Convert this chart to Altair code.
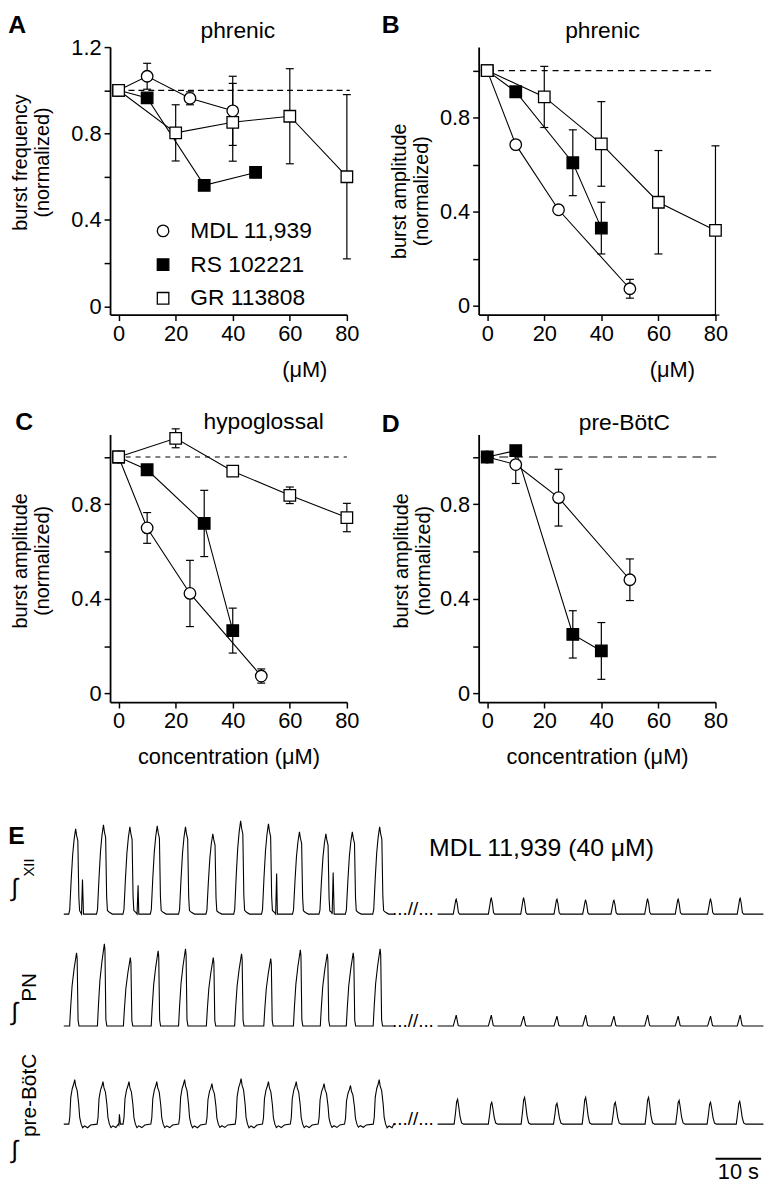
import altair as alt
import pandas as pd

FONT = "Liberation Sans"
SERIES = ["MDL 11,939", "RS 102221", "GR 113808"]
SHAPES = ["circle", "square", "square"]
FILLS = ["white", "black", "white"]

# ---------------- Panel A: phrenic burst frequency ----------------
A_MDL_X = [0, 10, 25, 40]
A_MDL_Y = [1.0, 1.065, 0.963, 0.905]
A_MDL_E = [0, 0.06, 0.03, 0.16]
A_RS_X = [0, 10, 30, 48]
A_RS_Y = [1.0, 0.965, 0.56, 0.62]
A_RS_E = [0, 0, 0.02, 0]
A_GR_X = [0, 20, 40, 60, 80]
A_GR_Y = [1.0, 0.803, 0.852, 0.88, 0.60]
A_GR_E = [0, 0.13, 0.18, 0.22, 0.38]

# ---------------- Panel B: phrenic burst amplitude ----------------
B_MDL_X = [0, 10, 25, 50]
B_MDL_Y = [1.0, 0.685, 0.408, 0.072]
B_MDL_E = [0, 0, 0, 0.04]
B_RS_X = [0, 10, 30, 40]
B_RS_Y = [1.0, 0.91, 0.608, 0.33]
B_RS_E = [0, 0, 0.14, 0.11]
B_GR_X = [0, 20, 40, 60, 80]
B_GR_Y = [1.0, 0.888, 0.688, 0.44, 0.32]
B_GR_E = [0, 0.13, 0.18, 0.22, 0.36]

# ---------------- Panel C: hypoglossal burst amplitude ----------------
C_MDL_X = [0, 10, 25, 50]
C_MDL_Y = [1.0, 0.70, 0.423, 0.074]
C_MDL_E = [0, 0.065, 0.14, 0.03]
C_RS_X = [0, 10, 30, 40]
C_RS_Y = [1.0, 0.946, 0.719, 0.266]
C_RS_E = [0, 0, 0.14, 0.095]
C_GR_X = [0, 20, 40, 60, 80]
C_GR_Y = [1.0, 1.079, 0.94, 0.838, 0.744]
C_GR_E = [0, 0.04, 0, 0.035, 0.06]

# ---------------- Panel D: pre-BotC burst amplitude ----------------
D_MDL_X = [0, 10, 25, 50]
D_MDL_Y = [1.0, 0.968, 0.828, 0.481]
D_MDL_E = [0, 0.08, 0.12, 0.088]
D_RS_X = [0, 10, 30, 40]
D_RS_Y = [1.0, 1.027, 0.25, 0.18]
D_RS_E = [0, 0, 0.10, 0.12]

# ---------------- Panel E: integrated traces (display time in s, amplitude in a.u.) ----------------
SEG_LEFT = [0.0, 72.4]
SEG_RIGHT = [82.0, 153.5]
BREAK_T = 76.6
XII_BASE, PN_BASE, PB_BASE = 264, 151, 52

XII_L_T = [2.6, 8.7, 14.5, 20.5, 26.7, 32.7, 38.8, 44.9, 51.7, 57.5, 63.3, 69.3]
XII_L_A = [86, 90, 88, 89, 88, 81, 94, 91, 83, 81, 83, 88]
XII_SPK_T = [4.1, 16.3, 46.7, 59.1]
XII_SPK_A = [35, 29, 41, 42]
XII_R_T = [86.1, 93.8, 100.9, 108.2, 114.5, 120.7, 128.1, 134.8, 141.9, 148.4]
XII_R_A = [15, 16, 16, 15, 14, 14, 15, 15, 15, 16]

PN_L_T = [2.8, 8.9, 14.6, 20.7, 26.7, 32.8, 39.0, 45.4, 51.9, 57.8, 63.5, 69.4]
PN_L_A = [74, 83, 69, 76, 78, 69, 73, 68, 77, 73, 74, 78]
PN_R_T = [86.1, 93.8, 100.9, 108.2, 114.5, 120.7, 128.1, 134.8, 141.9, 148.4]
PN_R_A = [11, 11, 10, 10, 11, 10, 11, 10, 10, 11]

PB_L_T = [2.4, 8.6, 14.3, 20.4, 26.5, 32.5, 38.9, 44.9, 51.0, 57.1, 62.9, 69.2]
PB_L_A = [45, 43, 43, 43, 45, 41, 46, 43, 43, 41, 39, 45]
PB_SPK_T = [12.2]
PB_SPK_A = [10]
PB_R_T = [86.4, 93.9, 101.1, 108.2, 114.5, 121.0, 128.3, 135.0, 141.9, 148.3]
PB_R_A = [25, 22, 27, 21, 27, 22, 27, 24, 22, 23]

# burst shapes (time from peak in s, fraction of peak)
XII_L_SHAPE_T = [-1.52, -1.30, -0.98, -0.65, -0.33, 0.0, 0.22, 0.48, 0.70, 0.87, 1.30, 1.96]
XII_L_SHAPE_A = [0, 0.05, 0.40, 0.70, 0.88, 1.0, 0.92, 0.86, 0.20, 0.04, 0.02, 0]
PN_L_SHAPE_T = [-1.52, -1.30, -0.98, -0.54, 0.0, 0.13, 0.33, 0.54]
PN_L_SHAPE_A = [0, 0.25, 0.55, 0.78, 1.0, 0.92, 0.08, 0]
PB_L_SHAPE_T = [-1.30, -1.09, -0.87, -0.54, -0.22, 0.0, 0.22, 0.54, 0.87, 1.09, 1.41, 1.74, 2.17, 2.83, 3.48]
PB_L_SHAPE_A = [0, 0.15, 0.60, 0.80, 0.90, 1.0, 0.85, 0.75, 0.45, 0.15, 0.0, -0.08, -0.04, -0.08, -0.02]
XII_R_SHAPE_T = [-0.65, -0.33, -0.11, 0.0, 0.22, 0.48, 0.76]
XII_R_SHAPE_A = [0, 0.55, 0.95, 1.0, 0.70, 0.10, 0]
PN_R_SHAPE_T = [-0.65, -0.33, 0.0, 0.22, 0.43, 0.65]
PN_R_SHAPE_A = [0, 0.5, 1.0, 0.5, 0.05, 0]
PB_R_SHAPE_T = [-0.76, -0.43, -0.22, 0.0, 0.22, 0.54, 0.87, 1.30]
PB_R_SHAPE_A = [0, 0.5, 0.9, 1.0, 0.75, 0.3, 0.05, 0]
SPK_SHAPE_T = [-0.22, 0.0, 0.22]
SPK_SHAPE_A = [0, 1.0, 0]

SCALEBAR_T = [143.0, 153.0]
SCALEBAR_U = 17


def series_df(xs_list, ys_list, es_list, names):
    rows = []
    for name, xs, ys, es in zip(names, xs_list, ys_list, es_list):
        for x, y, e in zip(xs, ys, es):
            rows.append({"series": name, "x": x, "y": y, "e": e, "lo": y - e, "hi": y + e,
                         "xl": x - 1.4, "xr": x + 1.4})
    return pd.DataFrame(rows)


def panel(df, ydom, yvals, ytitle, ytitle_x, ytitle_y, xtitle, xtitle_x, letter, letter_x, letter_y,
          title, title_x, title_y, dash, dash_x, legend=False):
    xs = alt.Scale(domain=[-3, 80], nice=False, zero=False)
    ys = alt.Scale(domain=ydom, nice=False, zero=False)
    xaxis = alt.Axis(values=[0, 20, 40, 60, 80], format="d", title=xtitle, labelFlush=False,
                     titleX=xtitle_x, titleY=55, titleBaseline="middle", titleAlign="center")
    yaxis = alt.Axis(values=yvals, format="~g", labelFlush=False,
                     labelExpr="round(datum.value*10) % 4 == 0 ? datum.label : ''",
                     title=ytitle, titleX=ytitle_x, titleY=ytitle_y, titleLineHeight=22,
                     titleFontSize=20)
    X = alt.X("x:Q", scale=xs, axis=xaxis)
    Y = alt.Y("y:Q", scale=ys, axis=yaxis)

    ref = pd.DataFrame({"x": [dash_x[0]], "x2": [dash_x[1]], "y": [1.0]})
    dashed = alt.Chart(ref).mark_rule(color="black", strokeWidth=1.2, strokeDash=dash).encode(
        x="x:Q", x2="x2:Q", y="y:Q")

    err = df[df["e"] > 0]
    bars = alt.Chart(err).mark_rule(color="black", strokeWidth=1.2).encode(
        x="x:Q", y="lo:Q", y2="hi:Q")
    caps_lo = alt.Chart(err).mark_rule(color="black", strokeWidth=1.2).encode(
        x="xl:Q", x2="xr:Q", y="lo:Q")
    caps_hi = alt.Chart(err).mark_rule(color="black", strokeWidth=1.2).encode(
        x="xl:Q", x2="xr:Q", y="hi:Q")

    lines = alt.Chart(df).mark_line(color="black", strokeWidth=1.1).encode(
        x="x:Q", y="y:Q", detail="series:N", order="x:Q")

    if legend:
        leg = alt.Legend(title=None, orient="none", legendX=42, legendY=174, labelFontSize=23,
                         labelFont=FONT, labelColor="black", symbolSize=135,
                         symbolStrokeWidth=1.3, rowPadding=10, labelOffset=16, padding=0)
    else:
        leg = None
    shape = alt.Shape("series:N", scale=alt.Scale(domain=SERIES, range=SHAPES), legend=leg)
    fill = alt.Fill("series:N", scale=alt.Scale(domain=SERIES, range=FILLS), legend=leg)
    stroke = alt.Stroke("series:N", scale=alt.Scale(domain=SERIES, range=["black"] * 3), legend=leg)
    order_map = {s: i for i, s in enumerate(SERIES)}
    pdf = df.copy()
    pdf["o"] = pdf["series"].map(order_map)
    points = alt.Chart(pdf).mark_point(filled=True, strokeWidth=1.3, size=135,
                                       opacity=1, fillOpacity=1).encode(
        x="x:Q", y="y:Q", shape=shape, fill=fill, stroke=stroke, order="o:Q")

    lab = alt.Chart(pd.DataFrame({"t": [letter]})).mark_text(
        align="left", baseline="alphabetic", fontSize=25, fontWeight="bold", font=FONT,
        color="black").encode(text="t:N", x=alt.value(letter_x), y=alt.value(letter_y))
    ttl = alt.Chart(pd.DataFrame({"t": [title]})).mark_text(
        align="center", baseline="alphabetic", fontSize=23, font=FONT, color="black").encode(
        text="t:N", x=alt.value(title_x), y=alt.value(title_y))

    base = alt.Chart(df).mark_point(opacity=0).encode(x=X, y=Y)
    return alt.layer(base, dashed, bars, caps_lo, caps_hi, lines, points, lab, ttl).properties(
        width=239, height=270).resolve_scale(shape="independent", fill="independent",
                                             stroke="independent")


dfA = series_df([A_MDL_X, A_RS_X, A_GR_X], [A_MDL_Y, A_RS_Y, A_GR_Y], [A_MDL_E, A_RS_E, A_GR_E], SERIES)
dfB = series_df([B_MDL_X, B_RS_X, B_GR_X], [B_MDL_Y, B_RS_Y, B_GR_Y], [B_MDL_E, B_RS_E, B_GR_E], SERIES)
dfC = series_df([C_MDL_X, C_RS_X, C_GR_X], [C_MDL_Y, C_RS_Y, C_GR_Y], [C_MDL_E, C_RS_E, C_GR_E], SERIES)
dfD = series_df([D_MDL_X, D_RS_X], [D_MDL_Y, D_RS_Y], [D_MDL_E, D_RS_E], SERIES[:2])

Y12 = [0, 0.2, 0.4, 0.6, 0.8, 1.0, 1.2]
Y10 = [0, 0.2, 0.4, 0.6, 0.8, 1.0]

pA = panel(dfA, [-0.038, 1.2], Y12, ["burst frequency", "(normalized)"], -80, 116, "(μM)", 196,
           "A", -102.7, -14, "phrenic", 129, -9, [6, 4], [0, 81], legend=True)
pB = panel(dfB, [-0.038, 1.1], Y10, ["burst amplitude", "(normalized)"], -70, 145, "(μM)", 195,
           "B", -97.7, -14, "phrenic", 125, -9, [6, 5], [0, 79])
pC = panel(dfC, [-0.036, 1.095], Y10, ["burst amplitude", "(normalized)"], -80, 127,
           "concentration (μM)", 119.5, "C", -95.7, -5, "hypoglossal", 155, -6, [5, 5], [-1, 80])
pD = panel(dfD, [-0.036, 1.095], Y10, ["burst amplitude", "(normalized)"], -68, 127,
           "concentration (μM)", 119.5, "D", -97.7, -3, "pre-BötC", 147, -5, [9, 6], [-1, 81.5])


# ---------------- Panel E ----------------
def trace(name, base, seg, peaks, amps, sh_t, sh_a, spk_t=(), spk_a=()):
    pts = [(seg[0], base), (seg[1], base)]
    for tp, a in zip(peaks, amps):
        for dt, f in zip(sh_t, sh_a):
            pts.append((tp + dt, base + a * f))
    for tp, a in zip(spk_t, spk_a):
        for dt, f in zip(SPK_SHAPE_T, SPK_SHAPE_A):
            pts.append((tp + dt, base + a * f))
    pts.sort()
    return pd.DataFrame({"t": [p[0] for p in pts], "u": [p[1] for p in pts], "seg": name})


traces = pd.concat([
    trace("XII-L", XII_BASE, SEG_LEFT, XII_L_T, XII_L_A, XII_L_SHAPE_T, XII_L_SHAPE_A, XII_SPK_T, XII_SPK_A),
    trace("XII-R", XII_BASE, SEG_RIGHT, XII_R_T, XII_R_A, XII_R_SHAPE_T, XII_R_SHAPE_A),
    trace("PN-L", PN_BASE, SEG_LEFT, PN_L_T, PN_L_A, PN_L_SHAPE_T, PN_L_SHAPE_A),
    trace("PN-R", PN_BASE, SEG_RIGHT, PN_R_T, PN_R_A, PN_R_SHAPE_T, PN_R_SHAPE_A),
    trace("PB-L", PB_BASE, SEG_LEFT, PB_L_T, PB_L_A, PB_L_SHAPE_T, PB_L_SHAPE_A, PB_SPK_T, PB_SPK_A),
    trace("PB-R", PB_BASE, SEG_RIGHT, PB_R_T, PB_R_A, PB_R_SHAPE_T, PB_R_SHAPE_A),
], ignore_index=True)

# E cell is 239 px wide (grid column); traces run past it unclipped at 4.6 px per s
TL = 10.15
TR = TL + 239 / 4.6
ex = alt.Scale(domain=[TL, TR], nice=False, zero=False)
ey = alt.Scale(domain=[-2, 357], nice=False, zero=False)

e_lines = alt.Chart(traces).mark_line(color="black", strokeWidth=1.1).encode(
    x=alt.X("t:Q", scale=ex, axis=None), y=alt.Y("u:Q", scale=ey, axis=None),
    detail="seg:N", order="t:Q")

brk = pd.DataFrame({"t": [BREAK_T] * 3, "u": [XII_BASE, PN_BASE, PB_BASE]})
e_break = alt.Chart(brk).mark_text(text="...//...", fontSize=19, font=FONT, color="black",
                                   baseline="alphabetic", dy=1).encode(x="t:Q", y="u:Q")

sb = pd.DataFrame({"t": [SCALEBAR_T[0]], "t2": [SCALEBAR_T[1]], "u": [SCALEBAR_U]})
e_sb = alt.Chart(sb).mark_rule(color="black", strokeWidth=2).encode(x="t:Q", x2="t2:Q", y="u:Q")
sbt = pd.DataFrame({"t": [(SCALEBAR_T[0] + SCALEBAR_T[1]) / 2], "u": [SCALEBAR_U], "txt": ["10 s"]})
e_sbt = alt.Chart(sbt).mark_text(fontSize=22, font=FONT, color="black", baseline="top", dy=3).encode(
    x="t:Q", y="u:Q", text="txt:N")


def etext(txt, x, y, size, angle=0, weight="normal", align="left", baseline="alphabetic"):
    return alt.Chart(pd.DataFrame({"t": [txt]})).mark_text(
        fontSize=size, font=FONT, color="black", fontWeight=weight, angle=angle, align=align,
        baseline=baseline).encode(text="t:N", x=alt.value(x), y=alt.value(y))


# E cell top is at page y ~821; integral signs upright, channel names rotated
e_texts = [
    etext("E", -102.7, 22, 25, weight="bold"),
    etext("MDL 11,939 (40 μM)", 322, 34, 25),
    etext("∫", -96, 67, 25, align="center", baseline="middle"),
    etext("XII", -82, 46, 15, angle=270, align="center", baseline="middle"),
    etext("∫", -96, 192, 25, align="center", baseline="middle"),
    etext("PN", -81, 167, 21, angle=270, align="center", baseline="middle"),
    etext("∫", -96, 331, 25, align="center", baseline="middle"),
    etext("pre-BötC", -81, 276, 21, angle=270, align="center", baseline="middle"),
]

pE = alt.layer(e_lines, e_break, e_sb, e_sbt, *e_texts).properties(width=239, height=359)

chart = alt.concat(pA, pB, pC, pD, pE, columns=2, spacing={"row": 121, "column": 133},
                   bounds="flush").resolve_scale(
    shape="independent", fill="independent", stroke="independent").resolve_legend(
    shape="independent", fill="independent", stroke="independent").properties(
    padding={"left": 0, "top": 0, "right": 0, "bottom": 0}
).configure(font=FONT).configure_view(stroke=None).configure_axis(
    domainColor="black", domainWidth=1.8, tickColor="black", tickWidth=1.5, tickSize=6,
    labelColor="black", labelFontSize=22, labelFont=FONT, labelPadding=3, grid=False,
    titleFont=FONT, titleFontSize=22, titleFontWeight="normal", titleColor="black")

chart.save("out.html", embed_options={"renderer": "svg", "actions": False})
